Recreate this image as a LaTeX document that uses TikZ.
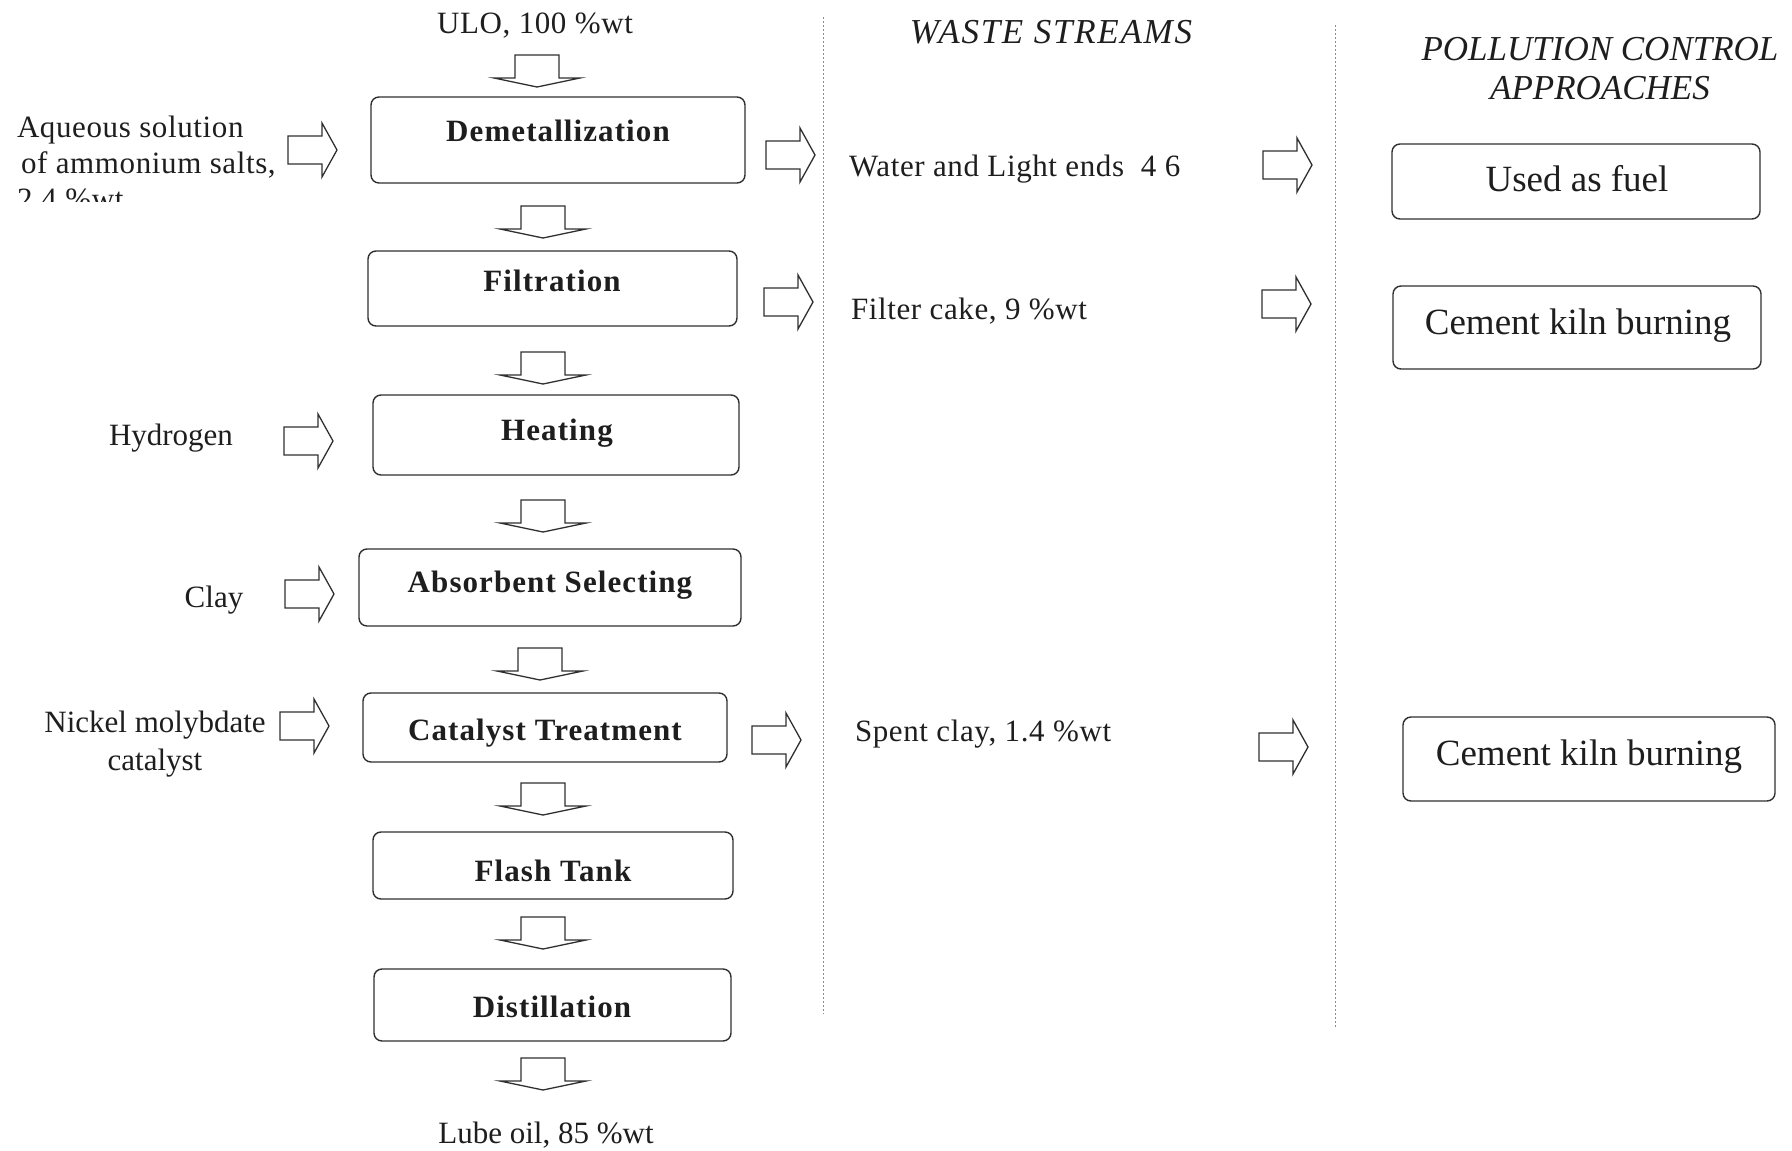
\documentclass[tikz,border=0pt]{standalone}
\usepackage{fontspec}
\setmainfont{Liberation Serif}
\definecolor{ink}{HTML}{1E1E1E}
\definecolor{edge}{HTML}{303030}
\definecolor{guidegray}{HTML}{8C8C8C}
\begin{document}
\begin{tikzpicture}[x=1pt,y=-1pt,
  every node/.style={inner sep=0pt, outer sep=0pt, text=ink},
  txt/.style={font=\fontsize{31}{36}\selectfont, text height=20pt, text depth=0pt},
  widetxt/.style={font=\fontsize{31}{36}\selectfont\addfontfeature{LetterSpace=2}, text height=20pt, text depth=0pt},
  boldtxt/.style={font=\bfseries\fontsize{31}{36}\selectfont\addfontfeature{LetterSpace=3.5}, text height=20pt, text depth=0pt},
  fueltxt/.style={font=\fontsize{37}{42}\selectfont, text height=24pt, text depth=0pt},
  headtxt/.style={font=\itshape\fontsize{35}{40}\selectfont, text height=23pt, text depth=0pt},
  procbox/.style={draw=edge, line width=1.4pt, rounded corners=8pt},
  blockarrow/.style={draw=edge, line width=1.3pt, line join=miter},
  guide/.style={draw=guidegray, line width=1pt, dash pattern=on 1.5pt off 2.5pt},
  downblock/.pic={\draw[blockarrow] (-22,0) -- (-22,23) -- (-43,23) -- (0,32) -- (43,23) -- (22,23) -- (22,0) -- cycle;},
  rightblock/.pic={\draw[blockarrow] (0,-14) -- (34,-14) -- (34,-27) -- (49,0) -- (34,27) -- (34,14) -- (0,14) -- cycle;}
]
\fill[white] (0,0) rectangle (1792,1151);
\useasboundingbox (0,0) rectangle (1792,1151);

% column separators
\coordinate (g1top) at (823,17);
\coordinate (g1bot) at (823,1014);
\coordinate (g2top) at (1335,25);
\coordinate (g2bot) at (1335,1029);
\draw[guide] (g1top) -- (g1bot);
\draw[guide] (g2top) -- (g2bot);

% headings
\node[headtxt, font=\itshape\fontsize{35}{40}\selectfont\addfontfeature{LetterSpace=5}] (wshead) at (1051,32) {WASTE STREAMS};
\node[headtxt] (pchead1) at (1600,49) {POLLUTION CONTROL};
\node[headtxt] (pchead2) at (1600,88) {APPROACHES};

% process chain
\node[procbox, minimum width=374pt, minimum height=86pt] (demet) at (558,140) {};
\node[boldtxt] (demet-t) at (558,131) {Demetallization};
\node[procbox, minimum width=369pt, minimum height=75pt] (filt) at (552.5,288.5) {};
\node[boldtxt] (filt-t) at (552,281) {Filtration};
\node[procbox, minimum width=366pt, minimum height=80pt] (heat) at (556,435) {};
\node[boldtxt] (heat-t) at (557,430) {Heating};
\node[procbox, minimum width=382pt, minimum height=77pt] (absb) at (550,587.5) {};
\node[boldtxt] (absb-t) at (550,582) {Absorbent Selecting};
\node[procbox, minimum width=364pt, minimum height=69pt] (cat) at (545,727.5) {};
\node[boldtxt] (cat-t) at (545,730) {Catalyst Treatment};
\node[procbox, minimum width=360pt, minimum height=67pt] (flash) at (553,865.5) {};
\node[boldtxt] (flash-t) at (553,871) {Flash Tank};
\node[procbox, minimum width=357pt, minimum height=72pt] (dist) at (552.5,1005) {};
\node[boldtxt] (dist-t) at (552,1007) {Distillation};

% feed and product
\node[widetxt] (ulo) at (535,23) {ULO, 100 \%wt};
\node[txt] (lube) at (546,1133) {Lube oil, 85 \%wt};

% flow between the steps
\pic (a0) at (537,55) {downblock};
\pic (a1) at (543,206) {downblock};
\pic (a2) at (543,352) {downblock};
\pic (a3) at (543,500) {downblock};
\pic (a4) at (540,648) {downblock};
\pic (a5) at (543,783) {downblock};
\pic (a6) at (543,917) {downblock};
\pic (a7) at (543,1058) {downblock};

% added materials
\begin{scope}
  \clip (0,0) rectangle (360,201);
  \node[widetxt, anchor=west] (aq1) at (17,127) {Aqueous solution};
  \node[widetxt, anchor=west] (aq2) at (21,163) {of ammonium salts,};
  \node[widetxt, anchor=west] (aq3) at (17,199) {2.4 \%wt};
\end{scope}
\node[txt] (hyd) at (171,435) {Hydrogen};
\node[txt] (clay) at (214,597) {Clay};
\node[txt] (nick1) at (155,722) {Nickel molybdate};
\node[txt] (nick2) at (155,760) {catalyst};
\pic (l1) at (288,150) {rightblock};
\pic (l2) at (284,441) {rightblock};
\pic (l3) at (285,594) {rightblock};
\pic (l4) at (280,726) {rightblock};

% waste streams
\pic (r1) at (766,155) {rightblock};
\pic (r2) at (764,302) {rightblock};
\pic (r3) at (752,740) {rightblock};
\node[widetxt, anchor=west] (water) at (849,166) {Water and Light ends\ \ 4 6};
\node[widetxt, anchor=west] (cake) at (851,309) {Filter cake, 9 \%wt};
\node[widetxt, anchor=west] (spent) at (855,731) {Spent clay, 1.4 \%wt};

% pollution control
\pic (f1) at (1263,165) {rightblock};
\pic (f2) at (1262,304) {rightblock};
\pic (f3) at (1259,747) {rightblock};
\node[procbox, minimum width=368pt, minimum height=75pt] (fuel) at (1576,181.5) {};
\node[fueltxt] (fuel-t) at (1577,179) {Used as fuel};
\node[procbox, minimum width=368pt, minimum height=83pt] (kiln1) at (1577,327.5) {};
\node[fueltxt] (kiln1-t) at (1578,322) {Cement kiln burning};
\node[procbox, minimum width=372pt, minimum height=84pt] (kiln2) at (1589,759) {};
\node[fueltxt] (kiln2-t) at (1589,753) {Cement kiln burning};
\end{tikzpicture}
\end{document}
